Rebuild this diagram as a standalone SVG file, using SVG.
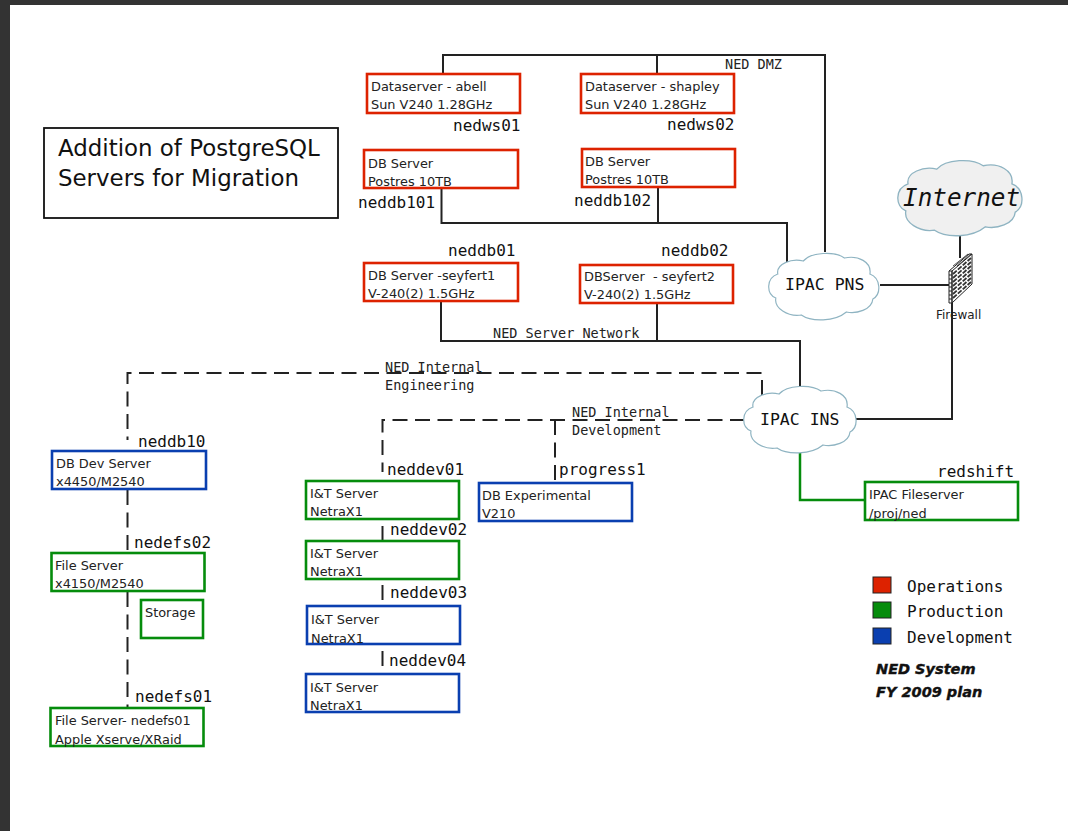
<svg xmlns="http://www.w3.org/2000/svg" width="1068" height="831" viewBox="0 0 1068 831">
<style>
.box{fill:#fff;stroke-width:2.6}
.r{stroke:#dd2200}.g{stroke:#058c0c}.b{stroke:#0a3fb0}
.t{font-family:"DejaVu Sans",sans-serif;font-size:12.9px;fill:#222}
.m{font-family:"DejaVu Sans Mono",monospace;font-size:16px;fill:#111}
.s{font-family:"DejaVu Sans Mono",monospace;font-size:13.5px;fill:#222}
.l{fill:none;stroke:#222;stroke-width:2}
.d{fill:none;stroke:#222;stroke-width:2;stroke-dasharray:15 7.500}
.cloud{stroke:#8fb4c2;stroke-width:1.2;vector-effect:non-scaling-stroke}
.i{font-family:"DejaVu Sans",sans-serif;font-size:14.5px;font-weight:bold;font-style:italic;fill:#111;stroke:#111;stroke-width:.4}
</style>
<defs>
<path id="cl" d="M10,22C8,12 24,6 36,9C44,0 68,-1 78,6C92,3 106,10 104,22C115,26 116,42 107,47C106,58 90,62 80,60C68,70 44,70 34,63C20,65 6,56 8,46C-2,42 -2,26 10,22Z"/>
</defs>
<rect width="1068" height="831" fill="#333"/>
<rect x="10" y="5" width="1058" height="826" fill="#fff"/>

<g id="connectors">
<path class="l" d="M443,73V55H825V252M657,55V73"/>
<path class="l" d="M441.500,189V223H787V262M658,188V223"/>
<path class="l" d="M441,302V341H800V386M657,303V341"/>
<path class="l" d="M880,285H950"/>
<path class="l" d="M960,236V258"/>
<path class="l" d="M952,303V419H856"/>
<path class="l" style="stroke:#058c0c;stroke-width:2.500" d="M800,453V500H865"/>
<path class="d" d="M762,395V373H127.500V440"/>
<path class="d" d="M745,420H382.500V472"/>
<path class="d" d="M555,420V482"/>
<path class="d" d="M127.500,490V553"/>
<path class="d" d="M127.500,592V707"/>
<path class="d" d="M382.500,526V540"/>
<path class="d" d="M382.500,585V606"/>
<path class="d" d="M382.500,651V674"/>
</g>

<g id="title"><rect x="44" y="128" width="294" height="90" fill="#fff" stroke="#111" stroke-width="1.800"/>
<text x="58" y="156" font-family="DejaVu Sans,sans-serif" font-size="22.900" fill="#111">Addition of PostgreSQL</text>
<text x="58" y="186" font-family="DejaVu Sans,sans-serif" font-size="22.900" fill="#111">Servers for Migration</text></g>

<g id="nedws01"><rect class="box r" x="367" y="74" width="153" height="39"/><text class="t" x="371" y="91">Dataserver - abell</text><text class="t" x="371" y="108.500">Sun V240 1.28GHz</text><text class="m" x="453" y="131">nedws01</text></g>
<g id="nedws02"><rect class="box r" x="581" y="74" width="153" height="39"/><text class="t" x="585" y="91">Dataserver - shapley</text><text class="t" x="585" y="108.500">Sun V240 1.28GHz</text><text class="m" x="667" y="130">nedws02</text></g>
<g id="neddb101"><rect class="box r" x="364" y="150" width="154" height="38"/><text class="t" x="368" y="168">DB Server</text><text class="t" x="368" y="186">Postres 10TB</text><text class="m" x="358" y="208">neddb101</text></g>
<g id="neddb102"><rect class="box r" x="582" y="149" width="153" height="38"/><text class="t" x="585" y="166">DB Server</text><text class="t" x="585" y="184">Postres 10TB</text><text class="m" x="574" y="206">neddb102</text></g>
<g id="neddb01"><rect class="box r" x="364" y="263" width="154" height="38"/><text class="t" x="368" y="280">DB Server -seyfert1</text><text class="t" x="368" y="298">V-240(2) 1.5GHz</text><text class="m" x="448" y="256">neddb01</text></g>
<g id="neddb02"><rect class="box r" x="580" y="265" width="153" height="38"/><text class="t" x="584" y="281" xml:space="preserve">DBServer  - seyfert2</text><text class="t" x="584" y="299">V-240(2) 1.5GHz</text><text class="m" x="661" y="256">neddb02</text></g>

<g id="internet"><use href="#cl" class="cloud" fill="#f0f0f0" transform="translate(897,159) scale(1.105,1.13)"/><text x="903" y="205.500" font-family="DejaVu Sans Mono,monospace" font-size="24.300" font-style="italic" fill="#111">Internet</text></g>
<g id="pns"><use href="#cl" class="cloud" fill="#fff" transform="translate(768,252) scale(0.98,1)"/><text x="785" y="290" font-family="DejaVu Sans Mono,monospace" font-size="16.500" fill="#111">IPAC PNS</text></g>
<g id="ins"><use href="#cl" class="cloud" fill="#fff" transform="translate(743,385) scale(1,1)"/><text x="760" y="425" font-family="DejaVu Sans Mono,monospace" font-size="16.500" fill="#111">IPAC INS</text></g>
<g id="firewall">
<path d="M949,271L969,254H972V284L952,303H949Z" fill="#fff" stroke="#222" stroke-width="1"/>
<path d="M949,271H952L972,254" fill="none" stroke="#222" stroke-width="1"/>
<path d="M952,271V303" stroke="#222" stroke-width="1.500"/>
<path d="M953,274L971,258M953,278L971,262M953,282L971,266M953,286L971,270M953,290L971,274M953,294L971,278M953,298L971,282" stroke="#333" stroke-width="1.800" stroke-dasharray="5 1.500" fill="none"/>
<path d="M949,275H952M949,279H952M949,283H952M949,287H952M949,291H952M949,295H952M949,299H952" stroke="#222" stroke-width="1"/>
<path d="M953,266L968,254M957,266L971,254" stroke="#222" stroke-width=".8" fill="none"/>
<text x="936" y="319" font-family="DejaVu Sans,sans-serif" font-size="12" fill="#222">Firewall</text></g>

<g id="redshift"><rect class="box g" x="865" y="482" width="153" height="38"/><text class="t" x="869" y="499">IPAC Fileserver</text><text class="t" x="869" y="518">/proj/ned</text><text class="m" x="937" y="477">redshift</text></g>

<g id="neddb10"><rect class="box b" x="52" y="451" width="154" height="38"/><text class="t" x="56" y="468">DB Dev Server</text><text class="t" x="56" y="486">x4450/M2540</text><text class="m" x="138" y="447">neddb10</text></g>
<g id="nedefs02"><rect class="box g" x="51.500" y="553" width="153" height="38"/><text class="t" x="55" y="570">File Server</text><text class="t" x="55" y="588">x4150/M2540</text><text class="m" x="134" y="548">nedefs02</text></g>
<g id="storage"><rect class="box g" x="141" y="600" width="62" height="38"/><text class="t" x="145" y="617">Storage</text></g>
<g id="nedefs01"><rect class="box g" x="50.500" y="708" width="153" height="38"/><text class="t" x="55" y="725">File Server- nedefs01</text><text class="t" x="55" y="744">Apple Xserve/XRaid</text><text class="m" x="135" y="702">nedefs01</text></g>

<g id="neddev01"><rect class="box g" x="306" y="481" width="153" height="38"/><text class="t" x="310" y="498">I&amp;T Server</text><text class="t" x="310" y="516">NetraX1</text><text class="m" x="387" y="475">neddev01</text></g>
<g id="neddev02"><rect class="box g" x="306" y="541" width="153" height="38"/><text class="t" x="310" y="558">I&amp;T Server</text><text class="t" x="310" y="576">NetraX1</text><text class="m" x="390" y="535">neddev02</text></g>
<g id="neddev03"><rect class="box b" x="307" y="606" width="153" height="38"/><text class="t" x="311" y="624">I&amp;T Server</text><text class="t" x="311" y="643">NetraX1</text><text class="m" x="390" y="598">neddev03</text></g>
<g id="neddev04"><rect class="box b" x="306" y="674" width="153" height="38"/><text class="t" x="310" y="692">I&amp;T Server</text><text class="t" x="310" y="710">NetraX1</text><text class="m" x="389" y="666">neddev04</text></g>
<g id="progress1"><rect class="box b" x="479" y="483" width="153" height="38"/><text class="t" x="482" y="500">DB Experimental</text><text class="t" x="482" y="518">V210</text><text class="m" x="559" y="475">progress1</text></g>

<g id="labels">
<text class="s" x="725" y="69">NED DMZ</text>
<text class="s" x="493" y="338">NED Server Network</text>
<text class="s" x="385" y="372">NED Internal</text>
<text class="s" x="385" y="390">Engineering</text>
<text class="s" x="572" y="417">NED Internal</text>
<text class="s" x="572" y="435">Development</text>
</g>

<g id="legend">
<rect x="873" y="577" width="18" height="16" fill="#dd2200" stroke="#222"/>
<rect x="873" y="602" width="18" height="16" fill="#058c0c" stroke="#222"/>
<rect x="873" y="628" width="18" height="16" fill="#0a3fb0" stroke="#222"/>
<text class="m" x="907" y="592">Operations</text>
<text class="m" x="907" y="617">Production</text>
<text class="m" x="907" y="643">Development</text>
<text class="i" x="876" y="674">NED System</text>
<text class="i" x="876" y="697">FY 2009 plan</text>
</g>
</svg>
